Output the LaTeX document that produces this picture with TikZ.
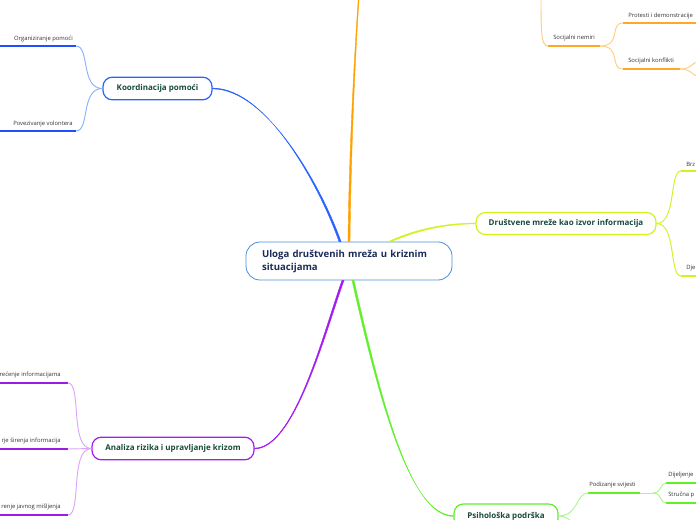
\documentclass[tikz,border=0pt]{standalone}
\usepackage{fontspec}
\setmainfont{Open Sans}
\usetikzlibrary{calc}
\definecolor{crootb}{HTML}{4A8FD4}
\definecolor{croot}{HTML}{1C2A58}
\definecolor{cnode}{HTML}{174A3A}
\definecolor{cleaf}{HTML}{333333}
\definecolor{cblue}{HTML}{2962FF}
\definecolor{cbluel}{HTML}{8AB0FF}
\definecolor{cblued}{HTML}{1F4FFF}
\definecolor{corange}{HTML}{FFA000}
\definecolor{corangel}{HTML}{FFCC80}
\definecolor{coranged}{HTML}{FFA726}
\definecolor{clime}{HTML}{D2F21C}
\definecolor{cpurple}{HTML}{A21CF0}
\definecolor{cpurplel}{HTML}{D9A6F8}
\definecolor{cpurpled}{HTML}{9A1AE6}
\definecolor{cgreen}{HTML}{5FF02A}
\definecolor{cgreenl}{HTML}{A8F68A}
\tikzset{
  rootbox/.style={draw=crootb, line width=0.6pt, rounded corners=10.5pt, fill=white,
    text width=130.5pt, align=left, inner xsep=12pt, inner ysep=0pt, minimum height=28.5pt,
    font=\fontsize{7.2}{9.75}\selectfont\bfseries, text=croot},
  mainbox/.style={draw, line width=0.9pt, rounded corners=7pt, fill=white, minimum height=17pt,
    inner xsep=0pt, inner ysep=0pt, font=\fontsize{6}{7}\selectfont\bfseries, text=cnode},
  leaf/.style={inner sep=0pt, font=\fontsize{4.4}{5}\selectfont, text=cleaf},
  branch/.style={line width=0.3pt},
  twig/.style={line width=0.7pt},
  uline/.style={line width=1.5pt},
}
\begin{document}
\begin{tikzpicture}[x=0.75pt,y=-0.75pt]
\useasboundingbox (0,0) rectangle (696,520);

\node[rootbox] (root) at (349,261) {Uloga društvenih mreža u kriznim situacijama};
\node[mainbox, draw=cblue, minimum width=81.75pt] (koord) at (157.5,88.5) {Koordinacija pomoći};
\node[mainbox, draw=clime, minimum width=135pt, minimum height=16.5pt] (drus) at (566,223.5) {Društvene mreže kao izvor informacija};
\node[mainbox, draw=cpurple, minimum width=121.5pt] (anal) at (173,448.5) {Analiza rizika i upravljanje krizom};
\node[mainbox, draw=cgreen, minimum width=78pt, minimum height=18pt] (psih) at (506,516) {Psihološka podrška};
\coordinate (orEnd) at (359,-6);

% main connectors (tapered: wide at the root, thin at the topic)
\filldraw[branch, cblue] ($(root.north)+(-10,0)$) .. controls (321,190) and (268,88) .. ($(koord.east)+(0,-0.4)$)
   -- ($(koord.east)+(0,0.4)$) .. controls (268,89) and (323,190) .. ($(root.north)+(-8,0)$) -- cycle;
\filldraw[branch, corange] ($(root.north)+(-1,0)$) .. controls (349,150) and (354.6,50) .. ($(orEnd)+(-0.4,0)$)
   -- ($(orEnd)+(0.4,0)$) .. controls (355.4,50) and (351,150) .. ($(root.north)+(1,0)$) -- cycle;
\filldraw[branch, clime] ($(root.north)+(39.5,0)$) .. controls (419,227.3) and (450,223.1) .. ($(drus.west)+(0,-0.4)$)
   -- ($(drus.west)+(0,0.4)$) .. controls (450,223.9) and (421,228.7) .. ($(root.north)+(42.5,0)$) -- cycle;
\filldraw[branch, cpurple] ($(root.south)+(-7,0)$) .. controls (324,330) and (295,448.1) .. ($(anal.east)+(0,-0.4)$)
   -- ($(anal.east)+(0,0.4)$) .. controls (295,448.9) and (326,330) .. ($(root.south)+(-5,0)$) -- cycle;
\filldraw[branch, cgreen] ($(root.south)+(3,0)$) .. controls (379,400) and (410,515.6) .. ($(psih.west)+(0,-0.4)$)
   -- ($(psih.west)+(0,0.4)$) .. controls (410,516.4) and (381,400) .. ($(root.south)+(5,0)$) -- cycle;

% ---- Koordinacija pomoći children ----
\coordinate (orgA) at (0,46);   \coordinate (orgB) at (76,46);
\coordinate (povA) at (0,131);  \coordinate (povB) at (76,131);
\node[leaf, anchor=east] (org) at (73,39) {Organiziranje pomoći};
\node[leaf, anchor=east] (pov) at (73,124) {Povezivanje volontera};
\draw[uline, cblued] (orgA) -- (orgB);
\draw[uline, cblued] (povA) -- (povB);
\draw[twig, cbluel] (koord.west) .. controls +(-22,0) and +(14,0) .. (orgB);
\draw[twig, cbluel] (koord.west) .. controls +(-22,0) and +(14,0) .. (povB);

% ---- Analiza children ----
\coordinate (a1A) at (0,383); \coordinate (a1B) at (68,383);
\coordinate (a2A) at (0,449); \coordinate (a2B) at (68,449);
\coordinate (a3A) at (0,515); \coordinate (a3B) at (68,515);
\node[leaf, anchor=east] (a1) at (61,375) {rećenje informacijama};
\node[leaf, anchor=east] (a2) at (61,441) {rje širenja informacija};
\node[leaf, anchor=east] (a3) at (61,507) {renje javnog mišljenja};
\draw[uline, cpurpled] (a1A) -- (a1B);
\draw[uline, cpurpled] (a2A) -- (a2B);
\draw[uline, cpurpled] (a3A) -- (a3B);
\draw[twig, cpurplel] (anal.west) .. controls +(-22,0) and +(14,0) .. (a1B);
\draw[twig, cpurplel] (anal.west) -- (a2B);
\draw[twig, cpurplel] (anal.west) .. controls +(-22,0) and +(14,0) .. (a3B);

% ---- Orange (top right) ----
\coordinate (orTop) at (541,-6);
\coordinate (snA) at (548,46); \coordinate (snB) at (600,46);
\coordinate (prA) at (623,23); \coordinate (prB) at (697,23);
\coordinate (skA) at (623,69); \coordinate (skB) at (680,69);
\coordinate (skU) at (698,62); \coordinate (skD) at (698,76);
\node[leaf, anchor=west] (sn) at (553,38) {Socijalni nemiri};
\node[leaf, anchor=west] (pr) at (628,16) {Protesti i demonstracije};
\node[leaf, anchor=west] (sk) at (628,61) {Socijalni konflikti};
\draw[twig, corangel] (orTop) .. controls (541,32) and (541,46) .. (snA);
\draw[uline, coranged] (snA) -- (snB);
\draw[uline, coranged] (prA) -- (prB);
\draw[uline, coranged] (skA) -- (skB);
\draw[twig, corangel] (snB) .. controls +(22,0) and +(-14,0) .. (prA);
\draw[twig, corangel] (snB) .. controls +(22,0) and +(-14,0) .. (skA);
\draw[twig, corangel] (skB) .. controls +(12,0) and +(-6,0) .. (skU);
\draw[twig, corangel] (skB) .. controls +(12,0) and +(-6,0) .. (skD);

% ---- Lime children ----
\coordinate (brA) at (681,171); \coordinate (brB) at (697,171);
\coordinate (djA) at (681,276); \coordinate (djB) at (697,276);
\node[leaf, anchor=west] (br) at (686,164) {Brz};
\node[leaf, anchor=west] (dj) at (686,268) {Dje};
\draw[uline, clime] (brA) -- (brB);
\draw[uline, clime] (djA) -- (djB);
\draw[twig, clime] (drus.east) .. controls +(20,0) and +(-12,0) .. (brA);
\draw[twig, clime] (drus.east) .. controls +(20,0) and +(-12,0) .. (djA);

% ---- Green children ----
\coordinate (pzA) at (588,493); \coordinate (pzB) at (640,493); \coordinate (pzC) at (653,493);
\coordinate (gDown) at (590,545);
\coordinate (dlA) at (666,483); \coordinate (dlB) at (697,483);
\coordinate (spA) at (666,503); \coordinate (spB) at (697,503);
\node[leaf, anchor=west] (pz) at (589,485) {Podizanje svijesti};
\node[leaf, anchor=west] (dl) at (668,475) {Dijeljenje};
\node[leaf, anchor=west] (sp) at (668,495) {Stručna p};
\draw[twig, cgreenl] (psih.east) .. controls +(20,0) and +(-12,0) .. (pzA);
\draw[twig, cgreenl] (psih.east) .. controls +(20,0) and +(-12,0) .. (gDown);
\draw[uline, cgreen] (pzA) -- (pzB);
\draw[twig, cgreenl] (pzB) -- (pzC);
\draw[uline, cgreen] (dlA) -- (dlB);
\draw[uline, cgreen] (spA) -- (spB);
\draw[twig, cgreenl] (pzC) .. controls +(9,0) and +(-6,0) .. (dlA);
\draw[twig, cgreenl] (pzC) .. controls +(9,0) and +(-6,0) .. (spA);
\end{tikzpicture}
\end{document}
